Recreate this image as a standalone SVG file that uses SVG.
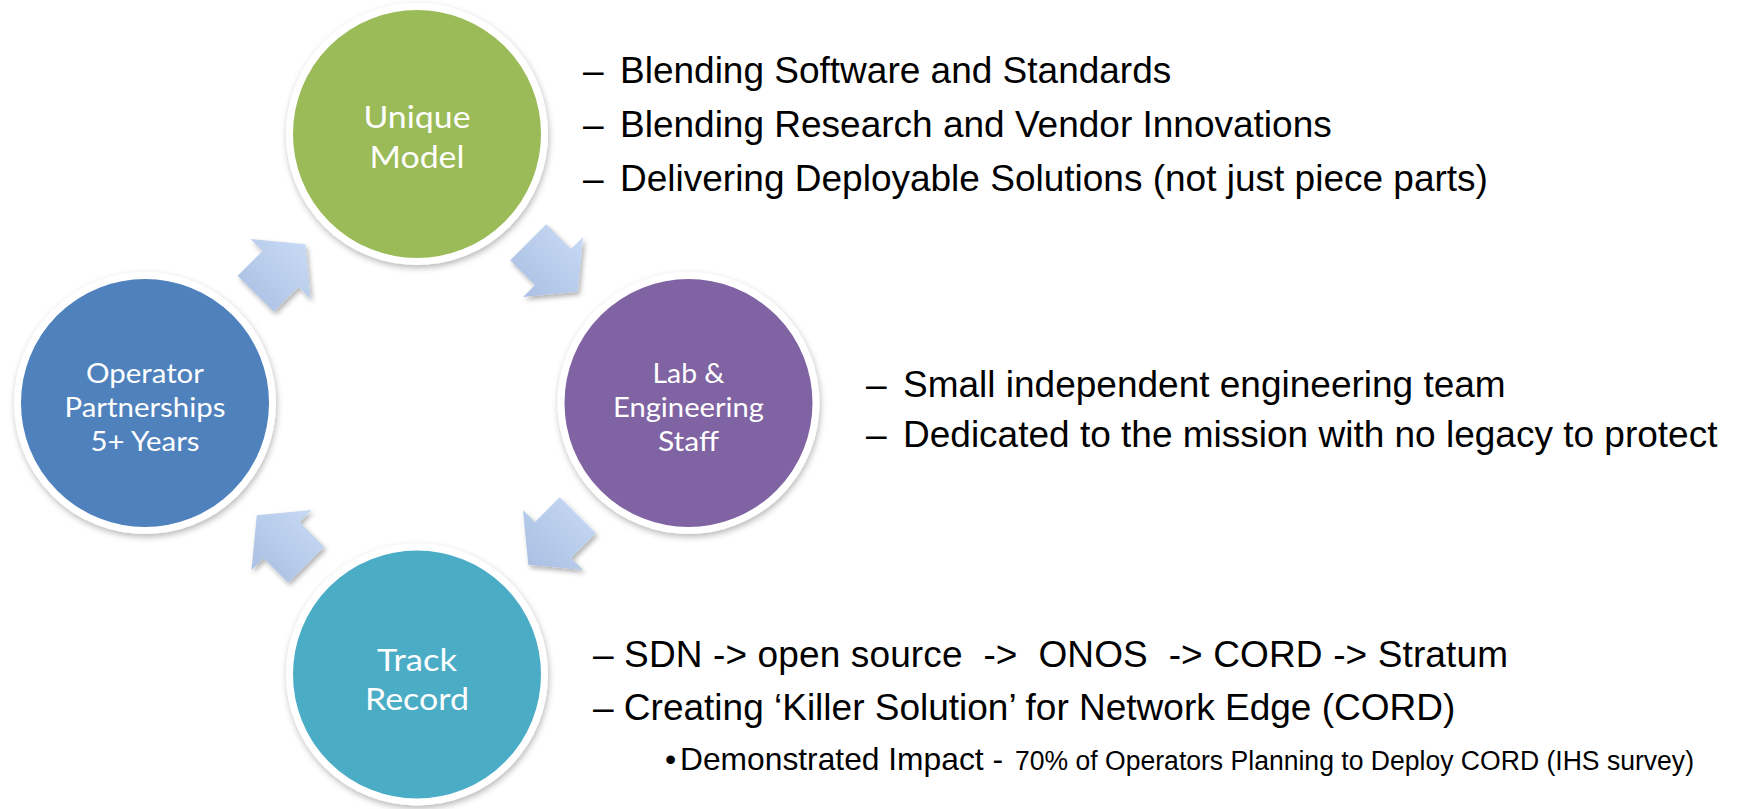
<svg xmlns="http://www.w3.org/2000/svg" width="1742" height="809" viewBox="0 0 1742 809">
  <style>
    .disc { stroke: #ffffff; stroke-width: 7; filter: url(#ringShadow); }
    .green { fill: #9bbb59; }
    .purple { fill: #8064a2; }
    .blue { fill: #4f81bd; }
    .teal { fill: #4bacc6; }
    .label { font-family: Lato, "Open Sans", "DejaVu Sans", sans-serif; fill: #ffffff; text-anchor: middle; }
    .big { font-size: 30px; }
    .small { font-size: 26px; }
    .arrow { fill: url(#arrowFill); filter: url(#arrowShadow); }
    .note { font-family: "Liberation Sans", Arial, sans-serif; font-size: 37px; fill: #000000; }
  </style>
  <defs>
    <filter id="ringShadow" x="-20%" y="-20%" width="140%" height="140%">
      <feDropShadow dx="1" dy="3" stdDeviation="3" flood-color="#000000" flood-opacity="0.28"/>
    </filter>
    <filter id="arrowShadow" x="-30%" y="-30%" width="160%" height="160%">
      <feDropShadow dx="2" dy="3" stdDeviation="2.5" flood-color="#000000" flood-opacity="0.3"/>
    </filter>
    <linearGradient id="arrowFill" x1="1" y1="0" x2="0" y2="1">
      <stop offset="0" stop-color="#c9dcf6"/>
      <stop offset="1" stop-color="#a8bde1"/>
    </linearGradient>
  </defs>

  <rect width="1742" height="809" fill="#ffffff"/>

  <!-- cycle arrows between the four discs -->
  <g id="connectors">
    <polygon class="arrow" points="546.3,224.2 571.0,249.0 583.1,237.0 577.8,291.8 523.0,297.1 535.0,285.0 510.2,260.3"/>
    <polygon class="arrow" points="595.8,533.3 571.0,558.0 583.1,570.1 528.3,564.8 523.0,510.0 535.0,522.0 559.7,497.2"/>
    <polygon class="arrow" points="288.2,582.8 263.5,558.0 251.5,570.1 256.8,515.3 311.6,510.0 299.5,522.0 324.3,546.7"/>
    <polygon class="arrow" points="237.7,275.7 262.5,251.0 250.5,239.0 305.3,244.3 310.6,299.1 298.5,287.0 273.8,311.8"/>
  </g>

  <g id="unique-model">
    <circle class="disc green" cx="417" cy="134" r="127.5"/>
    <text class="label big" x="417" y="128" textLength="107" lengthAdjust="spacingAndGlyphs">Unique</text>
    <text class="label big" x="417" y="168" textLength="95" lengthAdjust="spacingAndGlyphs">Model</text>
  </g>

  <g id="lab-engineering">
    <circle class="disc purple" cx="688.5" cy="403" r="127.5"/>
    <text class="label small" x="688.5" y="383" textLength="72" lengthAdjust="spacingAndGlyphs">Lab &amp;</text>
    <text class="label small" x="688.5" y="417" textLength="151" lengthAdjust="spacingAndGlyphs">Engineering</text>
    <text class="label small" x="688.5" y="451" textLength="61" lengthAdjust="spacingAndGlyphs">Staff</text>
  </g>

  <g id="track-record">
    <circle class="disc teal" cx="417" cy="674.5" r="127.5"/>
    <text class="label big" x="417" y="671" textLength="80" lengthAdjust="spacingAndGlyphs">Track</text>
    <text class="label big" x="417" y="710" textLength="104" lengthAdjust="spacingAndGlyphs">Record</text>
  </g>

  <g id="operator-partnerships">
    <circle class="disc blue" cx="145" cy="403" r="127.5"/>
    <text class="label small" x="145" y="383" textLength="118" lengthAdjust="spacingAndGlyphs">Operator</text>
    <text class="label small" x="145" y="417" textLength="161" lengthAdjust="spacingAndGlyphs">Partnerships</text>
    <text class="label small" x="145" y="451" textLength="109" lengthAdjust="spacingAndGlyphs">5+ Years</text>
  </g>

  <!-- bullet notes beside the discs -->
  <g id="model-notes" class="note">
    <text x="583" y="83">–</text>
    <text x="620" y="83">Blending Software and Standards</text>
    <text x="583" y="137">–</text>
    <text x="620" y="137">Blending Research and Vendor Innovations</text>
    <text x="583" y="191">–</text>
    <text x="620" y="191">Delivering Deployable Solutions (not just piece parts)</text>
  </g>

  <g id="staff-notes" class="note">
    <text x="866" y="397">–</text>
    <text x="903" y="397">Small independent engineering team</text>
    <text x="866" y="447">–</text>
    <text x="903" y="447">Dedicated to the mission with no legacy to protect</text>
  </g>

  <g id="record-notes" class="note">
    <text x="593" y="667" xml:space="preserve" textLength="915">– SDN -&gt; open source  -&gt;  ONOS  -&gt; CORD -&gt; Stratum</text>
    <text x="593" y="720">– Creating ‘Killer Solution’ for Network Edge (CORD)</text>
    <text x="665" y="770" font-size="32">•</text>
    <text x="680" y="770" font-size="32" textLength="323" lengthAdjust="spacingAndGlyphs">Demonstrated Impact -</text>
    <text x="1015" y="770" font-size="27" textLength="679" lengthAdjust="spacingAndGlyphs">70% of Operators Planning to Deploy CORD (IHS survey)</text>
  </g>
</svg>
